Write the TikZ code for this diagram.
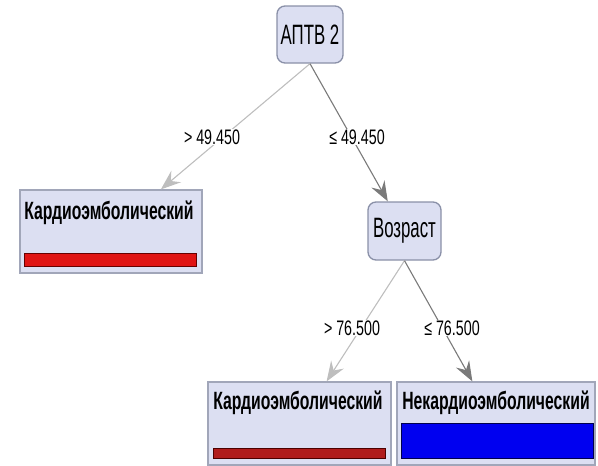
\documentclass[tikz,border=0pt]{standalone}
\usepackage{fontspec}
\setmainfont{Liberation Sans}
\newfontfamily\nf[FakeStretch=0.6]{Liberation Sans}
\newfontfamily\lf[FakeStretch=0.68]{Liberation Sans}
\newfontfamily\leafbold[FakeStretch=0.63]{Liberation Sans Bold}
\usetikzlibrary{arrows.meta}
\definecolor{nodefill}{HTML}{DCDFF2}
\definecolor{nodeline}{HTML}{8A90A8}
\definecolor{lightedge}{HTML}{BEBEBE}
\definecolor{darkedge}{HTML}{7A7A7A}
\definecolor{redbar}{HTML}{E01414}
\definecolor{redbarB}{HTML}{B01C1C}
\definecolor{bluebar}{HTML}{0000F0}
\tikzset{
  decision/.style={draw=nodeline, fill=nodefill, line width=1.3pt, rounded corners=8pt, inner sep=0pt, font=\nf\fontsize{28}{30}\selectfont},
  leafbox/.style={draw=nodeline!80, fill=nodefill, line width=1.2pt, inner sep=0pt},
  leaftext/.style={inner sep=0pt, font=\leafbold\fontsize{25}{27}\selectfont},
  bar/.style={inner sep=0pt, line width=1pt},
  cond/.style={fill=white, inner sep=1pt, font=\lf\fontsize{21}{23}\selectfont},
  lightarrow/.style={draw=lightedge, line width=1.1pt, -{Stealth[length=20pt,width=15pt,inset=7pt]}},
  darkarrow/.style={draw=darkedge, line width=1.1pt, -{Stealth[length=20pt,width=15pt,inset=7pt]}}
}
\begin{document}
\begin{tikzpicture}[x=1pt,y=-1pt]
\useasboundingbox (0,0) rectangle (598,466);
% decision nodes
\node[decision, minimum width=66pt, minimum height=57pt] (root) at (310,34.5) {АПТВ 2};
\node[decision, minimum width=73pt, minimum height=58pt] (age) at (404.5,231) {Возраст};
% leaves
\node[leafbox, minimum width=182pt, minimum height=83pt] (l1) at (111,231.5) {};
\node[leaftext] (l1t) at (109,213) {Кардиоэмболический};
\node[bar, draw=red!40!black, fill=redbar, minimum width=172pt, minimum height=13pt] (l1b) at (110,259.5) {};
\node[leafbox, minimum width=183pt, minimum height=83pt] (l2) at (299.5,423.5) {};
\node[leaftext] (l2t) at (298,403) {Кардиоэмболический};
\node[bar, draw=red!30!black, fill=redbarB, minimum width=172pt, minimum height=10pt] (l2b) at (299,453) {};
\node[leafbox, minimum width=198pt, minimum height=83pt] (l3) at (496,423.5) {};
\node[leaftext] (l3t) at (496,403) {Некардиоэмболический};
\node[bar, draw=blue!30!black, fill=bluebar, minimum width=192pt, minimum height=35pt] (l3b) at (497,440.5) {};
% edges
\draw[lightarrow] (root.south) -- (l1);
\draw[darkarrow] (root.south) -- (age);
\draw[lightarrow] (age.south) -- (l2);
\draw[darkarrow] (age.south) -- (l3);
% conditions
\node[cond] (c1) at (212,137) {> 49.450};
\node[cond] (c2) at (357,137) {≤ 49.450};
\node[cond] (c3) at (352,328) {> 76.500};
\node[cond] (c4) at (452,328) {≤ 76.500};
\end{tikzpicture}
\end{document}
